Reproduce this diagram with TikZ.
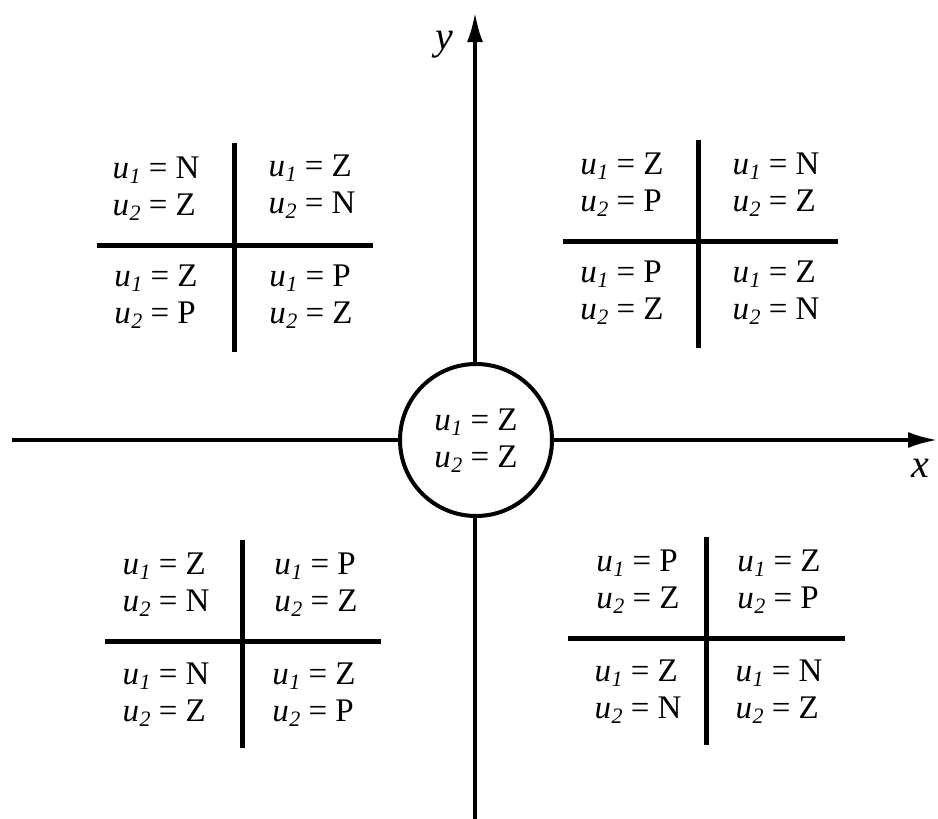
\documentclass[tikz,border=0pt]{standalone}
\usepackage{fontspec}
\setmainfont{Liberation Serif}
\usetikzlibrary{arrows.meta}
\newcommand\ulab[1]{\textit{u}\kern0.5pt\raisebox{-0.35ex}{\fontsize{22}{22}\selectfont\itshape #1}}
\newcommand\pairtxt[2]{\ulab{1} = #1\\\ulab{2} = #2}
\begin{document}
\begin{tikzpicture}[x=1pt,y=-1pt,
  grid/.style={line width=5pt},
  axis/.style={line width=4pt,-{Latex[length=30pt,width=16pt]}},
  lab/.style={font=\fontsize{33}{37}\selectfont,align=left,inner sep=0pt},
  axlab/.style={font=\fontsize{40}{40}\selectfont\itshape,inner sep=0pt}]
\useasboundingbox (0,0) rectangle (938,819);
% axes
\coordinate (xl) at (12,440);
\coordinate (xr) at (938,440);
\coordinate (yb) at (475,819);
\coordinate (yt) at (475,12);
\draw[axis] (xl) -- (xr);
\draw[axis] (yb) -- (yt);
\node[axlab] (ylab) at (444,45) {y};
\node[axlab] (xlab) at (920,468) {x};
% centre
\node[circle,draw,line width=4pt,fill=white,minimum size=152pt,inner sep=0pt] (c) at (476,440) {};
\node[lab] (ct) at (476,441) {\pairtxt{Z}{Z}};
% top-left
\begin{scope}[shift={(234,245)}]
\coordinate (tlv1) at (0,-102); \coordinate (tlv2) at (0,107);
\coordinate (tlh1) at (-137,0); \coordinate (tlh2) at (139,0);
\draw[grid] (tlv1) -- (tlv2);
\draw[grid] (tlh1) -- (tlh2);
\node[lab] (tla) at (-78,-56) {\pairtxt{N}{Z}};
\node[lab] (tlb) at (78,-58) {\pairtxt{Z}{N}};
\node[lab] (tlc) at (-78,52) {\pairtxt{Z}{P}};
\node[lab] (tld) at (77,52) {\pairtxt{P}{Z}};
\end{scope}
% top-right
\begin{scope}[shift={(698,241)}]
\coordinate (trv1) at (0,-101); \coordinate (trv2) at (0,107);
\coordinate (trh1) at (-135,0); \coordinate (trh2) at (140,0);
\draw[grid] (trv1) -- (trv2);
\draw[grid] (trh1) -- (trh2);
\node[lab] (tra) at (-76,-56) {\pairtxt{Z}{P}};
\node[lab] (trb) at (78,-56) {\pairtxt{N}{Z}};
\node[lab] (trc) at (-76,52) {\pairtxt{P}{Z}};
\node[lab] (trd) at (78,52) {\pairtxt{Z}{N}};
\end{scope}
% bottom-left
\begin{scope}[shift={(242,641)}]
\coordinate (blv1) at (0,-101); \coordinate (blv2) at (0,107);
\coordinate (blh1) at (-137,0); \coordinate (blh2) at (139,0);
\draw[grid] (blv1) -- (blv2);
\draw[grid] (blh1) -- (blh2);
\node[lab] (bla) at (-76,-56) {\pairtxt{Z}{N}};
\node[lab] (blb) at (74,-56) {\pairtxt{P}{Z}};
\node[lab] (blc) at (-76,54) {\pairtxt{N}{Z}};
\node[lab] (bld) at (72,54) {\pairtxt{Z}{P}};
\end{scope}
% bottom-right
\begin{scope}[shift={(706,638)}]
\coordinate (brv1) at (0,-101); \coordinate (brv2) at (0,107);
\coordinate (brh1) at (-138,0); \coordinate (brh2) at (139,0);
\draw[grid] (brv1) -- (brv2);
\draw[grid] (brh1) -- (brh2);
\node[lab] (bra) at (-68,-56) {\pairtxt{P}{Z}};
\node[lab] (brb) at (73,-56) {\pairtxt{Z}{P}};
\node[lab] (brc) at (-68,54) {\pairtxt{Z}{N}};
\node[lab] (brd) at (73,54) {\pairtxt{N}{Z}};
\end{scope}
\end{tikzpicture}
\end{document}
